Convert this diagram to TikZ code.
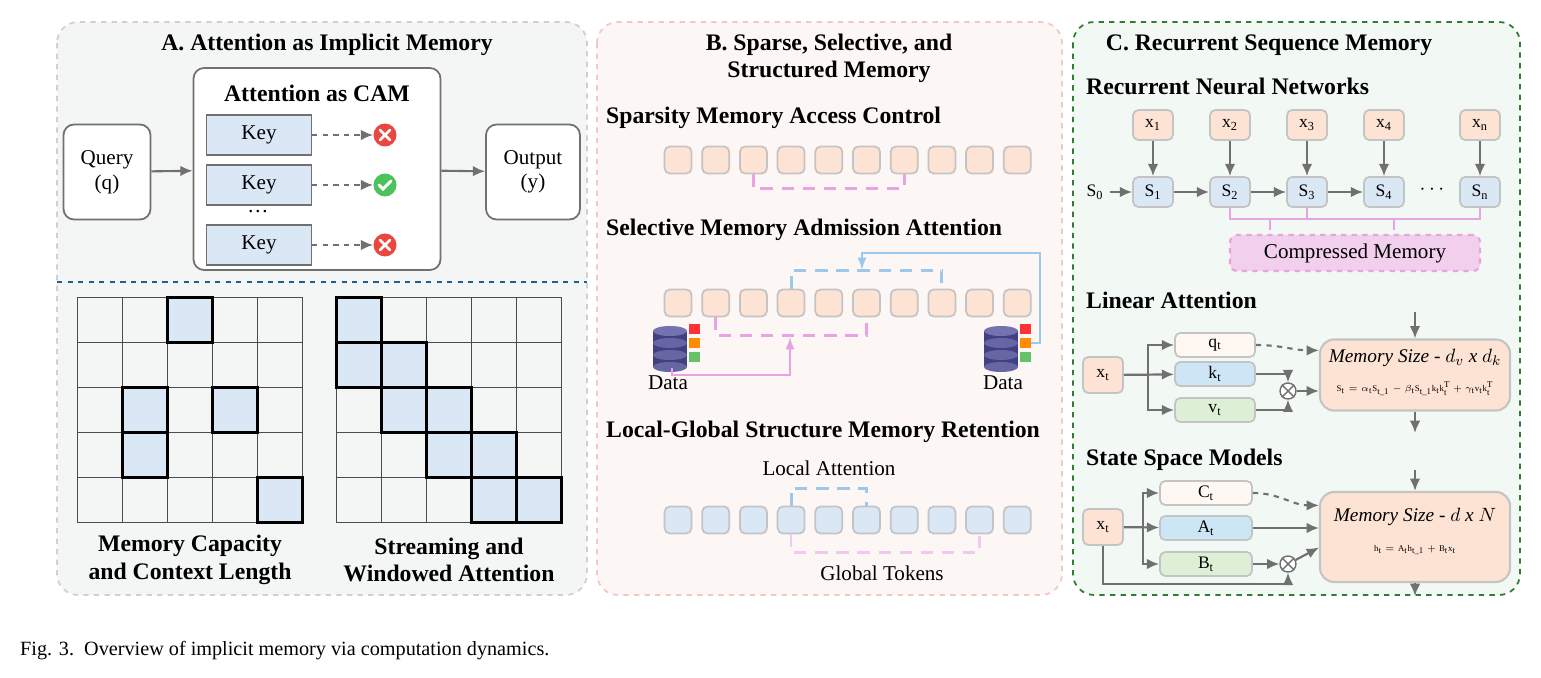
\documentclass[tikz,border=0pt]{standalone}
\usepackage{fontspec}
\setmainfont{Liberation Serif}
\usetikzlibrary{arrows.meta,positioning}

\definecolor{panelA}{HTML}{F4F5F5}
\definecolor{panelB}{HTML}{FCF6F4}
\definecolor{panelC}{HTML}{F2F8F4}
\definecolor{peach}{HTML}{FDE3D4}
\definecolor{sky}{HTML}{DAE8F5}
\definecolor{kblue}{HTML}{CDE6F5}
\definecolor{mint}{HTML}{DDF0D5}
\definecolor{rim}{HTML}{C4C4C4}
\definecolor{arr}{HTML}{707070}
\definecolor{pinkl}{HTML}{E9A3E2}
\definecolor{bluel}{HTML}{9EC7EC}
\definecolor{cmem}{HTML}{F2CFEC}
\definecolor{teal}{HTML}{1F5F8B}
\definecolor{dgreen}{HTML}{2E7D32}
\definecolor{bpink}{HTML}{F0C8C8}
\definecolor{xred}{HTML}{E9473F}
\definecolor{okgreen}{HTML}{4CC35A}

\tikzset{
  panel/.style={draw, dashed, rounded corners=12pt, line width=1pt},
  ttl/.style={font=\fontsize{13.5}{15.5}\selectfont\bfseries},
  sub/.style={font=\fontsize{13.5}{15.5}\selectfont\bfseries, anchor=west},
  txt/.style={font=\fontsize{12}{14}\selectfont},
  small/.style={font=\fontsize{10}{12}\selectfont},
  tokA/.style={draw=rim, fill=peach, rounded corners=3pt, line width=1pt, minimum size=0.54cm, inner sep=0pt},
  tokB/.style={tokA, fill=sky},
  gbox/.style={draw=arr, fill=white, rounded corners=6pt, line width=1pt, align=center, txt},
  keybox/.style={draw=arr, fill=sky, line width=0.8pt, minimum width=2.1cm, minimum height=0.8cm, txt},
  cell/.style={draw=black!70, fill=panelA, minimum size=0.9cm, inner sep=0pt, line width=0.5pt},
  hot/.style={draw=black, fill=sky, minimum size=0.9cm, inner sep=0pt, line width=1.3pt},
  sbox/.style={draw=rim, rounded corners=3pt, line width=1pt, minimum width=0.8cm, minimum height=0.6cm, inner sep=0pt, small},
  lbox/.style={draw=rim, rounded corners=3pt, line width=1pt, minimum width=1.6cm, minimum height=0.48cm, inner sep=0pt, small},
  mbox/.style={draw=rim, fill=peach, rounded corners=8pt, line width=1.2pt, minimum width=3.8cm, align=center},
  flow/.style={-{Latex[length=7pt,width=6pt]}, draw=arr, line width=1.2pt},
  pinkdash/.style={draw=pinkl, line width=1.5pt, dash pattern=on 7pt off 5pt},
  bluedash/.style={draw=bluel, line width=1.8pt, dash pattern=on 7pt off 5pt},
}

\begin{document}
\begin{tikzpicture}[x=0.02cm, y=-0.02cm]
  \useasboundingbox (0,0) rectangle (1541,678);

  % panels
  \draw[panel, draw=rim!80, fill=panelA] (57,22) rectangle (587,595);
  \draw[panel, draw=bpink, fill=panelB] (597,22) rectangle (1062,595);
  \draw[panel, draw=dgreen, fill=panelC] (1073,22) rectangle (1520,595);

  %%% A
  \node[ttl] (tA) at (327,45) {A. Attention as Implicit Memory};
  \node[gbox, minimum width=4.94cm, minimum height=4.04cm] (cam) at (317,169) {};
  \node[ttl] (tcam) at (317,93) {Attention as CAM};
  \node[gbox, minimum width=1.74cm, minimum height=1.9cm] (query) at (107,172) {Query\\(q)};
  \node[gbox, minimum width=1.88cm, minimum height=1.9cm] (output) at (533,172) {Output\\(y)};
  \node[keybox] (k1) at (259,135) {Key};
  \node[keybox] (k2) at (259,185) {Key};
  \node[keybox] (k3) at (259,245) {Key};
  \node[txt] (dots) at (258,212) {\dots};
  \foreach \k/\c/\y in {1/xred/135,2/okgreen/185,3/xred/245} {
    \node[circle, fill=\c, minimum size=0.46cm, inner sep=0pt] (ic\k) at (385,\y) {};
    \draw[flow, dashed] (k\k) -- (ic\k);
  }
  \foreach \k in {1,3} {
    \draw[white, line width=1.6pt, line cap=round] ([shift={(-5,-5)}]ic\k.center) -- ([shift={(5,5)}]ic\k.center);
    \draw[white, line width=1.6pt, line cap=round] ([shift={(-5,5)}]ic\k.center) -- ([shift={(5,-5)}]ic\k.center);
  }
  \draw[white, line width=1.8pt, line cap=round] ([shift={(-6,0)}]ic2.center) -- ([shift={(-2,4)}]ic2.center) -- ([shift={(6,-4)}]ic2.center);
  \draw[flow] (query) -- (cam);
  \draw[flow] (cam) -- (output);

  \draw[teal, line width=1pt, dashed] (57,282) -- (587,282);

  % grids
  \foreach \r in {0,...,4} \foreach \c in {0,...,4} {
    \node[cell] (ga\r\c) at ({100+45*\c},{320+45*\r}) {};
    \node[cell] (gb\r\c) at ({359+45*\c},{320+45*\r}) {};
  }
  \foreach \r/\c in {0/2,2/1,2/3,3/1,4/4}
    \node[hot] at (ga\r\c) {};
  \foreach \r/\c in {0/0,1/0,1/1,2/1,2/2,3/2,3/3,4/3,4/4}
    \node[hot] at (gb\r\c) {};
  \node[ttl, align=center] (capL) at (190,560) {Memory Capacity\\and Context Length};
  \node[ttl, align=center] (capR) at (449,560) {Streaming and\\Windowed Attention};

  %%% B
  \node[ttl, align=center] (tB) at (829,58) {B. Sparse, Selective, and\\Structured Memory};
  \node[sub] (s1) at (600,118) {Sparsity Memory Access Control};
  \node[sub] (s2) at (600,230) {Selective Memory Admission Attention};
  \node[sub] (s3) at (600,432) {Local-Global Structure Memory Retention};
  \foreach \i in {0,...,9} {
    \node[tokA] (a\i) at ({678+37.7*\i},160) {};
    \node[tokA] (b\i) at ({678+37.7*\i},303) {};
    \node[tokB] (c\i) at ({678+37.7*\i},520) {};
  }
  % row 1
  \draw[pinkdash] (a2.south) -- ++(0,14) -| (a6.south);
  % row 2
  \draw[bluedash] (b3.north) -- ++(0,-18) -| (b7.north);
  \draw[pinkdash] (b1.south) -- ++(0,18) -| (b5.south);
  % databases
  \foreach \d/\x in {dl/670,dr/1001} {
    \coordinate (\d) at (\x,343);
    \foreach \yy in {18,6,-6} {
      \fill[blue!35!black!75] ([shift={(-17,\yy-6)}]\d) rectangle ([shift={(17,\yy+6)}]\d);
      \fill[blue!40!black!60] ([shift={(0,\yy+6)}]\d) ellipse (17 and 5);
    }
    \fill[blue!45!black!55] ([shift={(0,-12)}]\d) ellipse (17 and 5);
    \foreach \yy/\cc in {-14/red!80,0/orange!90!yellow,14/green!60!black!60} {
      \fill[\cc] ([shift={(19,\yy-5)}]\d) rectangle ([shift={(30,\yy+5)}]\d);
    }
  }
  \node[txt] (dlt) at (668,383) {Data};
  \node[txt] (drt) at (1003,383) {Data};
  \coordinate (dri) at (1031,343);
  \coordinate (dli) at (672,368);
  \draw[-{Latex[length=7pt]}, draw=bluel, line width=1.3pt] (dri) -- (1040,343) -- (1040,253) -| (862,270);
  \draw[-{Latex[length=7pt]}, draw=pinkl, line width=1.3pt] (dli) |- (790,375) -- (790,337);
  % row 3
  \node[txt] (la) at (829,468) {Local Attention};
  \node[txt] (gt) at (882,573) {Global Tokens};
  \draw[bluedash] (c3.north) -- ++(0,-17) -| (c5.north);
  \draw[pinkdash, draw=pinkl!60] (c3.south) -- ++(0,18) -| (c8.south);

  %%% C
  \node[ttl] (tC) at (1269,45) {C. Recurrent Sequence Memory};
  \node[sub] (rnn) at (1080,86) {Recurrent Neural Networks};
  \node[small] (s0) at (1095,192) {S\textsubscript{0}};
  \foreach \n/\x in {1/1153,2/1230,3/1307,4/1384,n/1480} {
    \node[sbox, fill=peach] (x\n) at (\x,125) {x\textsubscript{\n}};
    \node[sbox, fill=sky] (S\n) at (\x,192) {S\textsubscript{\n}};
    \draw[flow] (x\n) -- (S\n);
  }
  \node[txt] at (1432,190) {$\cdots$};
  \draw[flow] (s0) -- (S1);
  \draw[flow] (S1) -- (S2);
  \draw[flow] (S2) -- (S3);
  \draw[flow] (S3) -- (S4);
  \node[draw=pinkl, dashed, line width=1.2pt, fill=cmem, rounded corners=4pt, minimum width=5cm, minimum height=0.72cm, txt] (cm) at (1355,253) {Compressed Memory};
  \draw[pinkl, line width=1.2pt] (S2.south) -- ++(0,11) -| (S3.south);
  \draw[pinkl, line width=1.2pt] (S3.south) ++(0,11) -| (Sn.south);
  \draw[pinkl, line width=1.2pt] (1270,218) -- (1270,230);
  \draw[pinkl, line width=1.2pt] (1394,218) -- (1394,230);

  % linear attention
  \node[sub] (lin) at (1080,300) {Linear Attention};
  \node[sbox, fill=peach, minimum height=0.72cm] (xa) at (1103,375) {x\textsubscript{t}};
  \node[lbox, fill=peach!30] (q) at (1215,345) {q\textsubscript{t}};
  \node[lbox, fill=kblue] (k) at (1215,374) {k\textsubscript{t}};
  \node[lbox, fill=mint] (v) at (1215,410) {v\textsubscript{t}};
  \node[mbox, minimum height=1.42cm] (mem1) at (1415,375) {};
  \node[font=\fontsize{11}{13}\selectfont\itshape] at (1415,358) {Memory Size - $d_v$ x $d_k$};
  \node[font=\tiny] at (1415,389) {$\mathrm{S_t = \alpha_t S_{t\_1} - \beta_t S_{t\_1} k_t k_t^T + \gamma_t v_t k_t^T}$};
  \node[circle, draw=arr, fill=white, inner sep=0pt, minimum size=0.32cm, line width=0.8pt] (ot1) at (1288,391) {};
  \draw[arr, line width=0.8pt] (ot1.45) -- (ot1.225) (ot1.135) -- (ot1.315);
  \draw[flow] (xa) -- (1148,375) |- (q);
  \draw[flow] (xa) -- (k);
  \draw[flow] (1148,375) |- (v);
  \draw[flow, dashed] (q) to[out=0, in=180] ([yshift=14pt]mem1.west);
  \draw[flow, line width=0.9pt] (k) -| (ot1);
  \draw[flow, line width=0.9pt] (v) -| (ot1);
  \draw[flow] (ot1) -- (ot1 -| mem1.west);
  \coordinate (m1t) at (1415,312);
  \coordinate (m1b) at (1415,433);
  \draw[flow] (m1t) -- (mem1);
  \draw[flow] (mem1) -- (m1b);

  % SSM
  \node[sub] (ssm) at (1080,460) {State Space Models};
  \node[sbox, fill=peach, minimum height=0.72cm] (xb) at (1103,527) {x\textsubscript{t}};
  \node[lbox, fill=peach!30, minimum width=1.84cm] (C) at (1206,493) {C\textsubscript{t}};
  \node[lbox, fill=kblue, minimum width=1.84cm] (A) at (1206,528) {A\textsubscript{t}};
  \node[lbox, fill=mint, minimum width=1.84cm] (B) at (1206,564) {B\textsubscript{t}};
  \node[mbox, minimum height=1.8cm] (mem2) at (1415,537) {};
  \node[font=\fontsize{11}{13}\selectfont\itshape] at (1415,517) {Memory Size - $d$ x $N$};
  \node[font=\tiny] at (1415,550) {$\mathrm{h_t = A_t h_{t\_1} + B_t x_t}$};
  \node[circle, draw=arr, fill=white, inner sep=0pt, minimum size=0.32cm, line width=0.8pt] (ot2) at (1288,564) {};
  \draw[arr, line width=0.8pt] (ot2.45) -- (ot2.225) (ot2.135) -- (ot2.315);
  \draw[flow] (xb) -- (1143,527) |- (C);
  \draw[flow] (xb) -- (A);
  \draw[flow] (1143,527) |- (B);
  \draw[flow, dashed] (C) to[out=0, in=180] ([yshift=18pt]mem2.west);
  \draw[flow] (A) -- (A -| mem2.west);
  \draw[flow, line width=0.9pt] (B) -- (ot2);
  \draw[flow, line width=0.9pt] (xb) |- (1288,584) -- (ot2);
  \draw[flow] (ot2) -- ([yshift=-6pt]mem2.west);
  \coordinate (m2t) at (1415,470);
  \coordinate (m2b) at (1415,596);
  \draw[flow] (m2t) -- (mem2);
  \draw[flow] (mem2) -- (m2b);

  % caption
  \node[anchor=west, font=\fontsize{11.5}{13}\selectfont] (cap) at (14,651) {Fig. 3.\enspace Overview of implicit memory via computation dynamics.};
\end{tikzpicture}
\end{document}
